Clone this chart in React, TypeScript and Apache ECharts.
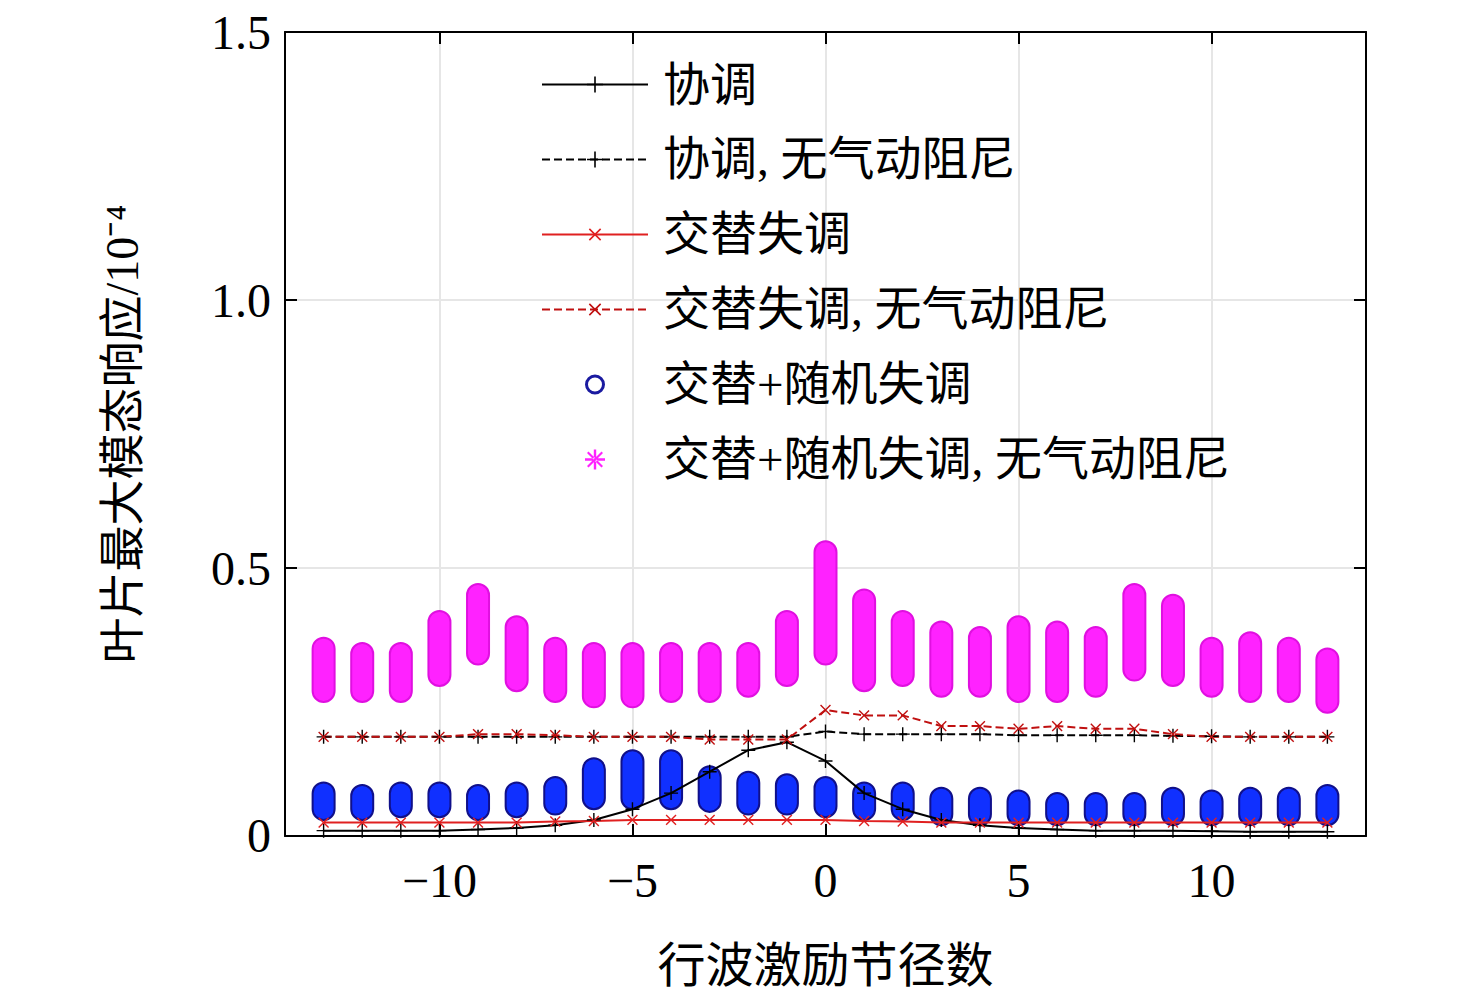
import React, { useEffect, useRef } from 'react';
import * as echarts from 'echarts';

const xs = [-13, -12, -11, -10, -9, -8, -7, -6, -5, -4, -3, -2, -1, 0, 1, 2, 3, 4, 5, 6, 7, 8, 9, 10, 11, 12, 13];
const tuned = [0.01, 0.01, 0.01, 0.01, 0.012, 0.015, 0.02, 0.03, 0.05, 0.08, 0.12, 0.16, 0.175, 0.14, 0.08, 0.05, 0.03, 0.02, 0.015, 0.012, 0.01, 0.01, 0.01, 0.009, 0.008, 0.008, 0.008];
const tunedNoAero = [0.185, 0.185, 0.185, 0.185, 0.185, 0.185, 0.185, 0.185, 0.185, 0.185, 0.185, 0.185, 0.185, 0.195, 0.19, 0.19, 0.19, 0.19, 0.188, 0.188, 0.188, 0.188, 0.187, 0.186, 0.185, 0.185, 0.185];
const alt = [0.025, 0.025, 0.025, 0.025, 0.025, 0.025, 0.027, 0.028, 0.03, 0.03, 0.03, 0.03, 0.03, 0.03, 0.028, 0.027, 0.025, 0.025, 0.025, 0.025, 0.025, 0.025, 0.025, 0.025, 0.025, 0.025, 0.025];
const altNoAero = [0.185, 0.185, 0.185, 0.185, 0.19, 0.19, 0.188, 0.185, 0.185, 0.185, 0.18, 0.18, 0.18, 0.235, 0.225, 0.225, 0.205, 0.205, 0.2, 0.205, 0.2, 0.2, 0.19, 0.185, 0.185, 0.185, 0.185];
const randLo = [0.03, 0.03, 0.035, 0.035, 0.03, 0.035, 0.04, 0.05, 0.05, 0.05, 0.045, 0.04, 0.04, 0.035, 0.03, 0.03, 0.02, 0.02, 0.02, 0.02, 0.02, 0.02, 0.02, 0.02, 0.02, 0.02, 0.02];
const randHi = [0.1, 0.095, 0.1, 0.1, 0.095, 0.1, 0.11, 0.145, 0.16, 0.16, 0.13, 0.12, 0.115, 0.11, 0.1, 0.1, 0.09, 0.09, 0.085, 0.08, 0.08, 0.08, 0.09, 0.085, 0.09, 0.09, 0.095];
const randNoLo = [0.25, 0.25, 0.25, 0.28, 0.32, 0.27, 0.25, 0.24, 0.24, 0.25, 0.25, 0.26, 0.28, 0.32, 0.27, 0.28, 0.26, 0.26, 0.25, 0.25, 0.26, 0.29, 0.28, 0.26, 0.25, 0.25, 0.23];
const randNoHi = [0.37, 0.36, 0.36, 0.42, 0.47, 0.41, 0.37, 0.36, 0.36, 0.36, 0.36, 0.36, 0.42, 0.55, 0.46, 0.42, 0.4, 0.39, 0.41, 0.4, 0.39, 0.47, 0.45, 0.37, 0.38, 0.37, 0.35];
const xTicks = [-10, -5, 0, 5, 10];
const yTicks = [0, 0.5, 1.0, 1.5];

const names = ['协调', '协调, 无气动阻尼', '交替失调', '交替失调, 无气动阻尼', '交替+随机失调', '交替+随机失调, 无气动阻尼'];
const font = '"Liberation Serif", "Noto Sans CJK SC", serif';
const plus = 'path://M-1,-0.1H1V0.1H-1Z M-0.1,-1H0.1V1H-0.1Z';
const star = 'path://M-1,-0.12H1V0.12H-1Z M-0.12,-1H0.12V1H-0.12Z M-0.8,-0.65L0.65,0.8L0.8,0.65L-0.65,-0.8Z M0.8,-0.65L-0.65,0.8L-0.8,0.65L0.65,-0.8Z';
const ring = 'path://M0,-1A1,1,0,1,1,0,1A1,1,0,1,1,0,-1Z M0,-0.7A0.7,0.7,0,1,0,0,0.7A0.7,0.7,0,1,0,0,-0.7Z';

const pairs = (ys: number[]) => xs.map((x, i) => [x, ys[i]]);

const capsule = (lo: number[], hi: number[], fill: string, stroke: string) => (params: any, api: any) => {
  const i = params.dataIndex;
  const a = api.coord([xs[i], lo[i]]);
  const b = api.coord([xs[i], hi[i]]);
  const w = 22;
  return {
    type: 'rect',
    shape: { x: a[0] - w / 2, y: b[1], width: w, height: a[1] - b[1], r: w / 2 },
    style: { fill, stroke, lineWidth: 2 },
  };
};

export default function App() {
  const ref = useRef<HTMLDivElement>(null);
  useEffect(() => {
    if (!ref.current) return;
    const chart = echarts.init(ref.current, undefined, { renderer: 'svg' });
    const axisX = {
      type: 'value', min: -14, max: 14,
      axisLine: { show: true, onZero: false, lineStyle: { color: '#000', width: 2 } },
      axisTick: { show: true, inside: true, length: 12, customValues: xTicks, lineStyle: { color: '#000', width: 2 } },
      splitLine: { show: true, lineStyle: { color: '#e6e6e6', width: 2 } },
    };
    const axisY = {
      type: 'value', min: 0, max: 1.5,
      axisLine: { show: true, onZero: false, lineStyle: { color: '#000', width: 2 } },
      axisTick: { show: true, inside: true, length: 12, customValues: yTicks, lineStyle: { color: '#000', width: 2 } },
      splitLine: { show: true, lineStyle: { color: '#e6e6e6', width: 2 } },
    };
    const lineSeries = (name: string, data: number[], color: string, type: string, symbol: string, rotate = 0) => ({
      name, type: 'line', data: pairs(data), symbol, symbolSize: 14, symbolRotate: rotate,
      lineStyle: { color, width: 2, type }, itemStyle: { color },
    });
    chart.setOption({
      animation: false,
      grid: { left: 277, right: 102, top: 19, bottom: 156 },
      legend: {
        left: 528, top: 48, orient: 'vertical', itemGap: 28, itemWidth: 106, itemHeight: 20,
        textStyle: { fontFamily: font, fontSize: 47, color: '#000', padding: [0, 0, 0, 10] },
        data: [
          { name: names[0] }, { name: names[1] }, { name: names[2] }, { name: names[3] },
          { name: names[4], icon: ring, itemStyle: { color: '#1a1aa0' } },
          { name: names[5], icon: star, itemStyle: { color: '#ff22ff' } },
        ],
      },
      xAxis: [
        { ...axisX, position: 'bottom', axisLabel: { customValues: xTicks, fontFamily: font, fontSize: 48, color: '#000', margin: 20, formatter: (v: number) => (v < 0 ? '\u2212' + -v : String(v)) },
          name: '行波激励节径数', nameLocation: 'middle', nameGap: 105, nameTextStyle: { fontFamily: font, fontSize: 48, color: '#000' } },
        { ...axisX, position: 'top', axisLabel: { show: false }, splitLine: { show: false } },
      ],
      yAxis: [
        { ...axisY, position: 'left', axisLabel: { customValues: yTicks, fontFamily: font, fontSize: 48, color: '#000', margin: 14, formatter: (v: number) => (v === 0 ? '0' : v.toFixed(1)) },
          name: '叶片最大模态响应/10⁻⁴', nameLocation: 'middle', nameGap: 140, nameTextStyle: { fontFamily: font, fontSize: 46, color: '#000' } },
        { ...axisY, position: 'right', axisLabel: { show: false }, splitLine: { show: false } },
      ],
      series: [
        { name: names[5], type: 'custom', data: pairs(randNoHi), renderItem: capsule(randNoLo, randNoHi, '#ff22ff', '#e010e0'), itemStyle: { color: '#ff22ff' }, z: 1 },
        { name: names[4], type: 'custom', data: pairs(randHi), renderItem: capsule(randLo, randHi, '#1030ff', '#10108a'), itemStyle: { color: '#1a1aa0' }, z: 3 },
        lineSeries(names[0], tuned, '#000', 'solid', plus),
        lineSeries(names[1], tunedNoAero, '#000', 'dashed', plus),
        lineSeries(names[2], alt, '#e02020', 'solid', plus, 45),
        lineSeries(names[3], altNoAero, '#c01010', 'dashed', plus, 45),
      ],
    });
    return () => chart.dispose();
  }, []);
  return <div ref={ref} style={{ width: 1460, height: 986 }} />;
}
